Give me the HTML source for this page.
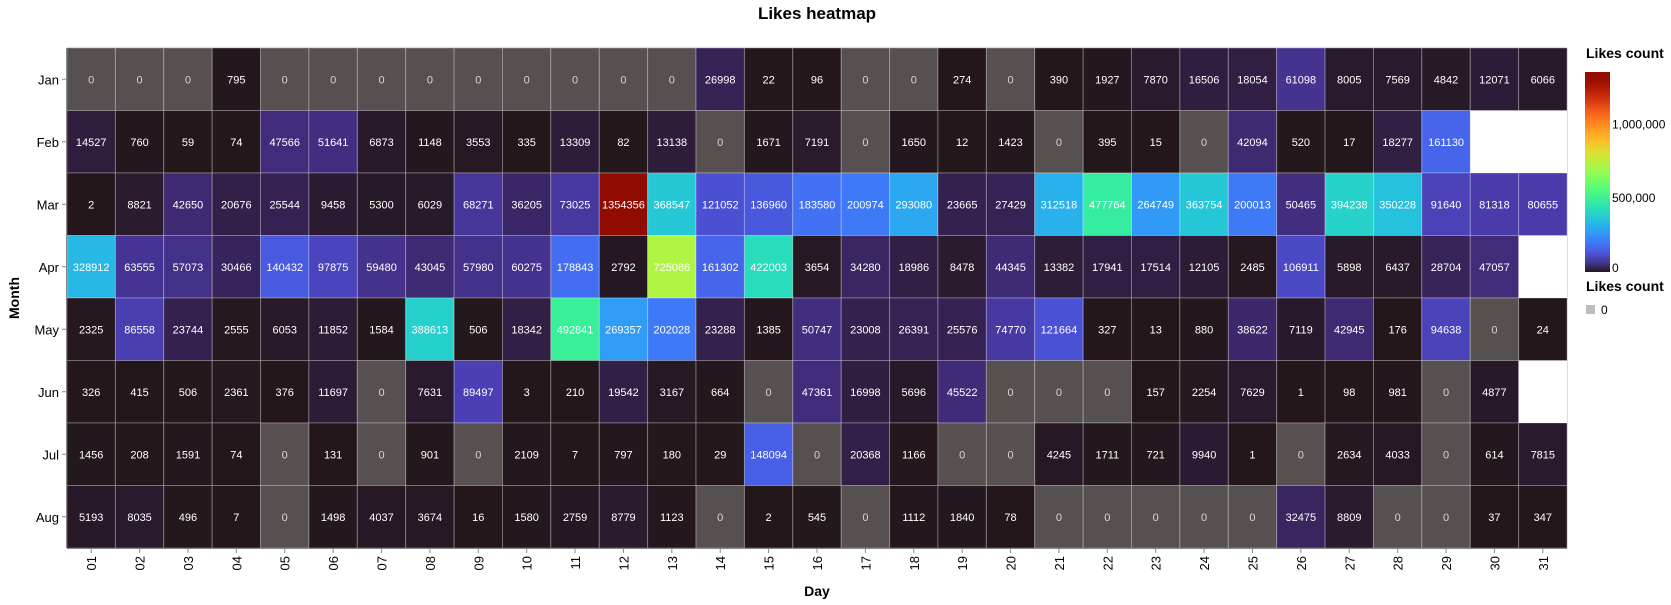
<!DOCTYPE html>
<html><head><meta charset="utf-8"><style>
html,body{margin:0;padding:0;background:#fff;width:1671px;height:605px;overflow:hidden}
svg{font-family:"Liberation Sans",Arial,sans-serif}
</style></head><body>
<svg id="chart" width="1671" height="605" xmlns="http://www.w3.org/2000/svg">
<defs><linearGradient id="grad" x1="0" y1="1" x2="0" y2="0"></linearGradient></defs>
<text x="817" y="19" text-anchor="middle" font-size="17" font-weight="bold">Likes heatmap</text>
<g id="cells"></g>
<g id="yaxis"></g>
<g id="xaxis"></g>
<text transform="translate(19,298) rotate(-90)" text-anchor="middle" font-size="14" font-weight="bold">Month</text>
<text x="817" y="596" text-anchor="middle" font-size="14" font-weight="bold">Day</text>
<g id="legend">
<text x="1586" y="58" font-size="14" font-weight="bold">Likes count</text>
<rect x="1585" y="72" width="25" height="200" fill="url(#grad)"/>
<g id="legticks"></g>
<text x="1586" y="291" font-size="14" font-weight="bold">Likes count</text>
<rect x="1586" y="305" width="9" height="9" fill="#bdbdbd"/>
<text x="1601" y="314" font-size="12">0</text>
</g>
</svg>
<script>
const months = ["Jan","Feb","Mar","Apr","May","Jun","Jul","Aug"];
const days = ["01","02","03","04","05","06","07","08","09","10","11","12","13","14","15","16","17","18","19","20","21","22","23","24","25","26","27","28","29","30","31"];
const jan = [0,0,0,795,0,0,0,0,0,0,0,0,0,26998,22,96,0,0,274,0,390,1927,7870,16506,18054,61098,8005,7569,4842,12071,6066];
const feb = [14527,760,59,74,47566,51641,6873,1148,3553,335,13309,82,13138,0,1671,7191,0,1650,12,1423,0,395,15,0,42094,520,17,18277,161130,null,null];
const mar = [2,8821,42650,20676,25544,9458,5300,6029,68271,36205,73025,1354356,368547,121052,136960,183580,200974,293080,23665,27429,312518,477764,264749,363754,200013,50465,394238,350228,91640,81318,80655];
const apr = [328912,63555,57073,30466,140432,97875,59480,43045,57980,60275,178843,2792,725086,161302,422003,3654,34280,18986,8478,44345,13382,17941,17514,12105,2485,106911,5898,6437,28704,47057,null];
const may = [2325,86558,23744,2555,6053,11852,1584,388613,506,18342,492841,269357,202028,23288,1385,50747,23008,26391,25576,74770,121664,327,13,880,38622,7119,42945,176,94638,0,24];
const jun = [326,415,506,2361,376,11697,0,7631,89497,3,210,19542,3167,664,0,47361,16998,5696,45522,0,0,0,157,2254,7629,1,98,981,0,4877,null];
const jul = [1456,208,1591,74,0,131,0,901,0,2109,7,797,180,29,148094,0,20368,1166,0,0,4245,1711,721,9940,1,0,2634,4033,0,614,7815];
const aug = [5193,8035,496,7,0,1498,4037,3674,16,1580,2759,8779,1123,0,2,545,0,1112,1840,78,0,0,0,0,0,32475,8809,0,0,37,347];
const legendTicks = [0,500000,1000000];
const legendTickLabels = ["0","500,000","1,000,000"];

const rows = [jan,feb,mar,apr,may,jun,jul,aug];
const NS = "http://www.w3.org/2000/svg";
const X0 = 67, X1 = 1567, Y0 = 48, Y1 = 548;
const cw = (X1-X0)/days.length, ch = (Y1-Y0)/months.length;
const xPos = i => X0 + i*cw;
const yPos = j => Y0 + j*ch;
let vmax = 0; rows.forEach(r => r.forEach(v => { if (v != null && v > vmax) vmax = v; }));
function turbo(t){
  t = Math.max(0, Math.min(1, t));
  const r = Math.max(0, Math.min(255, Math.round(34.61 + t*(1172.33 - t*(10793.56 - t*(33300.12 - t*(38394.49 - t*14825.05)))))));
  const g = Math.max(0, Math.min(255, Math.round(23.31 + t*(557.33 + t*(1225.33 - t*(3574.96 - t*(1073.77 + t*707.56)))))));
  const b = Math.max(0, Math.min(255, Math.round(27.2 + t*(3211.1 - t*(15327.97 - t*(27814 - t*(22569.18 - t*6838.66)))))));
  return `rgb(${r},${g},${b})`;
}
function mk(tag, attrs, parent){ const e = document.createElementNS(NS, tag); for (const k in attrs) e.setAttribute(k, attrs[k]); parent.appendChild(e); return e; }

const cells = document.getElementById("cells");
rows.forEach((row, j) => {
  row.forEach((v, i) => {
    if (v == null) return;
    const r = mk("rect", {x: xPos(i), y: yPos(j), width: cw, height: ch, fill: v === 0 ? "#575051" : turbo(v/vmax), stroke: "rgba(255,255,255,0.28)", "stroke-width": 1}, cells);
    
    
    const t = mk("text", {x: xPos(i)+cw/2, y: yPos(j)+ch/2+4, "text-anchor": "middle", "font-size": 11, fill: v === 0 ? "#d6d6d6" : "#fff"}, cells);
    
    
    t.textContent = v;
  });
});
mk("line", {x1: X1+0.5, y1: Y0, x2: X1+0.5, y2: Y1, stroke: "#ddd"}, cells);
mk("line", {x1: X0, y1: Y0-0.5, x2: X1, y2: Y0-0.5, stroke: "#ddd"}, cells);

const ya = document.getElementById("yaxis");
mk("line", {x1: X0-0.5, y1: Y0, x2: X0-0.5, y2: Y1, stroke: "#888"}, ya);
months.forEach((m, j) => {
  const y = yPos(j)+ch/2;
  mk("line", {x1: X0-5, y1: y, x2: X0, y2: y, stroke: "#888"}, ya);
  const t = mk("text", {x: X0-8, y: y+5, "text-anchor": "end", "font-size": 13}, ya);
  
  
  t.textContent = m;
});
const xa = document.getElementById("xaxis");
mk("line", {x1: X0, y1: Y1+0.5, x2: X1, y2: Y1+0.5, stroke: "#888"}, xa);
days.forEach((d, i) => {
  const x = xPos(i)+cw/2;
  mk("line", {x1: x, y1: Y1, x2: x, y2: Y1+5, stroke: "#888"}, xa);
  const t = mk("text", {transform: `translate(${x+5},${Y1+8}) rotate(-90)`, "text-anchor": "end", "font-size": 13}, xa);
  
  
  t.textContent = d;
});

const grad = document.getElementById("grad");
for (let k = 0; k <= 20; k++) mk("stop", {offset: (k/20), "stop-color": turbo(k/20)}, grad);
const lt = document.getElementById("legticks");
legendTicks.forEach((v, k) => {
  const y = 272 - (v/vmax)*200;
  const t = mk("text", {x: 1612, y: Math.min(y+4, 272), "font-size": 12}, lt);
  
  
  t.textContent = legendTickLabels[k];
});
</script>
</body></html>
